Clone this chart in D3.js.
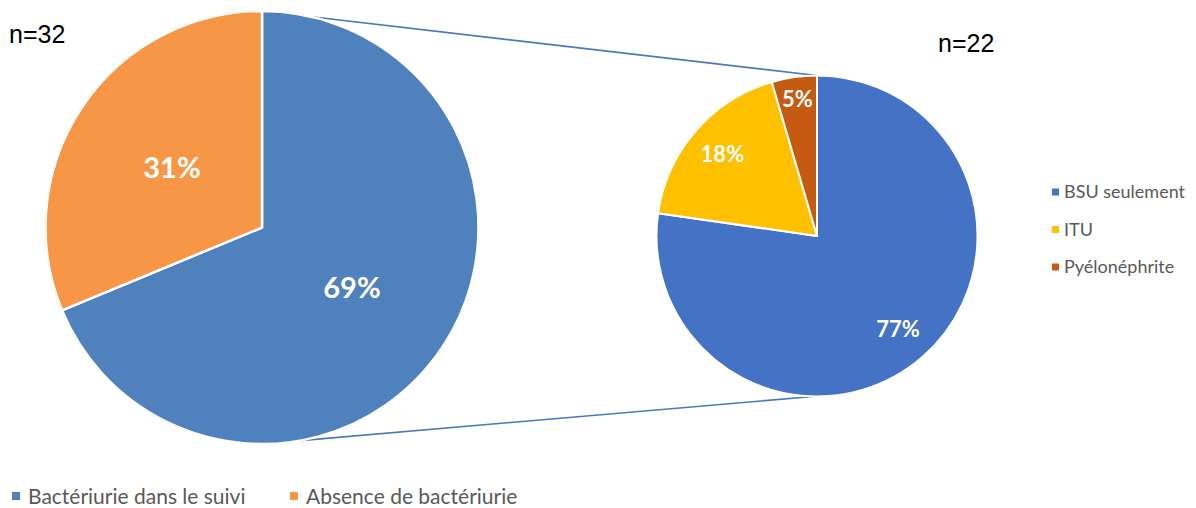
<!DOCTYPE html>
<html>
<head>
<meta charset="utf-8">
<script src="https://cdn.jsdelivr.net/npm/d3@7"></script>
<style>
  body { margin: 0; background: #fff; }
  svg { display: block; }
</style>
</head>
<body>
<div id="chart"></div>
<script>
// data
var mainLabels = ["Bactériurie dans le suivi", "Absence de bactériurie"];
var mainValues = [22, 10];
var mainColors = ["#4f81bd", "#f79646"];

var subLabels = ["BSU seulement", "ITU", "Pyélonéphrite"];
var subValues = [17, 4, 1];
var subColors = ["#4472c4", "#ffc000", "#c55a11"];

var mainN = "n=32";
var subN = "n=22";

// chart size
var svgWidth = 1196;
var svgHeight = 508;

var svg = d3.select("#chart")
  .append("svg")
  .attr("width", svgWidth)
  .attr("height", svgHeight);

// layout of the two pies
var left = { cx: 262, cy: 227.5, r: 216.5 };
var right = { cx: 817, cy: 236, r: 160.5 };

var pie = d3.pie().sort(null).startAngle(0).endAngle(2 * Math.PI);

var fmt = function(v, total) { return Math.round(v / total * 100) + "%"; };

// connector lines (drawn first, pies cover the ends)
var bottomAnchor = 169.8 * Math.PI / 180;
var conn = svg.append("g")
  .attr("stroke", "#4a78c0")
  .attr("stroke-width", 1.6)
  .attr("fill", "none");

conn.append("line")
  .attr("x1", left.cx).attr("y1", left.cy - left.r)
  .attr("x2", right.cx).attr("y2", right.cy - right.r);

conn.append("line")
  .attr("x1", left.cx + Math.sin(bottomAnchor) * left.r)
  .attr("y1", left.cy - Math.cos(bottomAnchor) * left.r)
  .attr("x2", right.cx - 4).attr("y2", right.cy + right.r);

// left pie
var leftTotal = d3.sum(mainValues);
var leftArc = d3.arc().innerRadius(0).outerRadius(left.r);
var leftLabelArc = d3.arc().innerRadius(left.r * 0.5).outerRadius(left.r * 0.5);

var leftG = svg.append("g")
  .attr("transform", `translate(${left.cx}, ${left.cy})`);

leftG.selectAll("path")
  .data(pie(mainValues))
  .enter()
  .append("path")
  .attr("d", leftArc)
  .attr("fill", (d, i) => mainColors[i])
  .attr("stroke", "#fff")
  .attr("stroke-width", 2.5)
  .attr("stroke-linejoin", "round");

leftG.selectAll("text")
  .data(pie(mainValues))
  .enter()
  .append("text")
  .attr("transform", d => `translate(${leftLabelArc.centroid(d)})`)
  .attr("dy", "0.36em")
  .attr("text-anchor", "middle")
  .style("font-family", "Lato, 'Open Sans', sans-serif")
  .style("font-weight", "bold")
  .style("font-size", "29px")
  .style("fill", "#fff")
  .text(d => fmt(d.value, leftTotal));

// right pie
var subTotal = d3.sum(subValues);
var rightArc = d3.arc().innerRadius(0).outerRadius(right.r);
var labelRadius = [0.77, 0.78, 0.86];

var rightG = svg.append("g")
  .attr("transform", `translate(${right.cx}, ${right.cy})`);

rightG.selectAll("path")
  .data(pie(subValues))
  .enter()
  .append("path")
  .attr("d", rightArc)
  .attr("fill", (d, i) => subColors[i])
  .attr("stroke", "#fff")
  .attr("stroke-width", 2)
  .attr("stroke-linejoin", "round");

rightG.selectAll("text")
  .data(pie(subValues))
  .enter()
  .append("text")
  .attr("transform", function(d, i) {
      var a = (d.startAngle + d.endAngle) / 2;
      var rr = right.r * labelRadius[i];
      return `translate(${Math.sin(a) * rr}, ${-Math.cos(a) * rr})`;
  })
  .attr("dy", "0.36em")
  .attr("text-anchor", "middle")
  .style("font-family", "Lato, 'Open Sans', sans-serif")
  .style("font-weight", "bold")
  .style("font-size", "22px")
  .style("fill", "#fff")
  .text(d => fmt(d.value, subTotal));

// n labels
svg.append("text")
  .attr("x", 9).attr("y", 43)
  .style("font-family", "'Liberation Sans', Arial, sans-serif")
  .style("font-size", "25px")
  .style("fill", "#000")
  .text(mainN);

svg.append("text")
  .attr("x", 938).attr("y", 52)
  .style("font-family", "'Liberation Sans', Arial, sans-serif")
  .style("font-size", "25px")
  .style("fill", "#000")
  .text(subN);

// right legend
var subLegend = svg.append("g")
  .attr("transform", "translate(1052, 192)");

var subItems = subLegend.selectAll("g")
  .data(subLabels)
  .enter()
  .append("g")
  .attr("transform", (d, i) => `translate(0, ${i * 37.5})`);

subItems.append("rect")
  .attr("x", 0).attr("y", -3.5)
  .attr("width", 7).attr("height", 7)
  .attr("fill", (d, i) => subColors[i]);

subItems.append("text")
  .attr("x", 12)
  .attr("dy", "0.36em")
  .style("font-family", "Lato, 'Open Sans', sans-serif")
  .style("font-size", "18px")
  .style("fill", "#595959")
  .text(d => d);

// bottom legend
var legendX = [12, 290];
var mainLegend = svg.append("g")
  .attr("transform", "translate(0, 496)");

var mainItems = mainLegend.selectAll("g")
  .data(mainLabels)
  .enter()
  .append("g")
  .attr("transform", (d, i) => `translate(${legendX[i]}, 0)`);

mainItems.append("rect")
  .attr("x", 0).attr("y", -4)
  .attr("width", 8).attr("height", 8)
  .attr("fill", (d, i) => mainColors[i]);

mainItems.append("text")
  .attr("x", 16)
  .attr("dy", "0.36em")
  .style("font-family", "Lato, 'Open Sans', sans-serif")
  .style("font-size", "21px")
  .style("fill", "#595959")
  .text(d => d);
</script>
</body>
</html>
